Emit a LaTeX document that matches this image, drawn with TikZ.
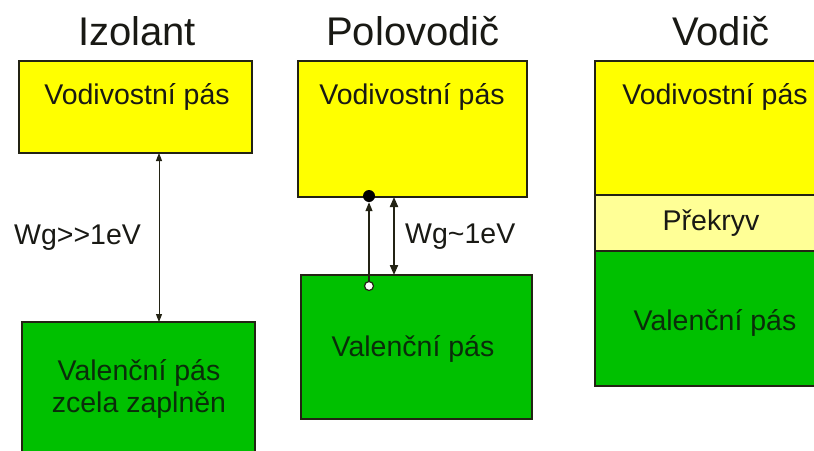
\documentclass[tikz,border=0pt]{standalone}
\usepackage{fontspec}
\setmainfont{Liberation Sans}
\usetikzlibrary{arrows.meta}
\definecolor{bandyellow}{RGB}{255,255,0}
\definecolor{overlapyellow}{RGB}{255,255,150}
\definecolor{bandgreen}{RGB}{0,192,0}
\definecolor{edge}{RGB}{35,35,20}
\definecolor{ink}{RGB}{25,25,20}
\definecolor{greenink}{RGB}{10,45,10}
\tikzset{
  band/.style={draw=edge, line width=2pt, inner sep=0pt, outer sep=0pt, anchor=north west},
  title/.style={font=\fontsize{40}{44}\selectfont, text=ink},
  lbl/.style={font=\fontsize{28.5}{32}\selectfont, text=ink, inner sep=0pt},
  glbl/.style={lbl, text=greenink, align=center},
  gap/.style={draw=edge, line width=1pt, {Triangle[width=6pt,length=8pt]}-{Triangle[width=6pt,length=8pt]}},
  gapthick/.style={draw=edge, line width=2pt, {Triangle[width=8pt,length=10pt]}-{Triangle[width=8pt,length=10pt]}},
  jump/.style={draw=edge, line width=1.2pt, -{Triangle[width=7pt,length=9pt]}},
  electron/.style={circle, fill=black, inner sep=0pt, minimum size=12pt},
  hole/.style={circle, draw=edge, fill=white, line width=1.2pt, inner sep=0pt, minimum size=9pt},
}
\begin{document}
\begin{tikzpicture}[x=1pt, y=-1pt]
\clip (0,0) rectangle (814,450);
\fill[white] (0,0) rectangle (814,450);

% --- Izolant ---
\node[title] (t1) at (137,31) {Izolant};
\node[band, fill=bandyellow, minimum width=233pt, minimum height=92pt] (izc) at (19,61) {};
\node[band, fill=bandgreen, minimum width=233pt, minimum height=160pt] (izv) at (22,322) {};
\node[lbl] at (137,97) {Vodivostní pás};
\node[glbl] at (139,389) {Valenční pás\\zcela zaplněn};
\coordinate (izx) at (159,0);
\draw[gap] (izc.south -| izx) -- (izv.north -| izx);
\node[lbl, anchor=west] at (14,238) {Wg{>}{>}1eV};

% --- Polovodič ---
\node[title] (t2) at (413,31) {Polovodič};
\node[band, fill=bandyellow, minimum width=229pt, minimum height=136pt] (pvc) at (298,61) {};
\node[band, fill=bandgreen, minimum width=231pt, minimum height=144pt] (pvv) at (301,275) {};
\node[lbl] at (412,97) {Vodivostní pás};
\node[glbl] at (413,349) {Valenční pás};
\coordinate (pvx) at (394,0);
\draw[gapthick] (pvc.south -| pvx) -- (pvv.north -| pvx);
\node[electron] (el) at (369,196) {};
\node[hole] (ho) at (369,286) {};
\draw[jump] (ho) -- (el);
\node[lbl, anchor=west] at (405,237) {Wg\textasciitilde 1eV};

% --- Vodič ---
\node[title] (t3) at (721,31) {Vodič};
\node[band, fill=bandyellow, minimum width=240pt, minimum height=134pt] (vdc) at (595,61) {};
\node[band, fill=overlapyellow, minimum width=240pt, minimum height=56pt] (vdo) at (595,195) {};
\node[band, fill=bandgreen, minimum width=240pt, minimum height=135pt] (vdv) at (595,251) {};
\node[lbl] at (715,97) {Vodivostní pás};
\node[lbl] at (711,223) {Překryv};
\node[glbl] at (715,323) {Valenční pás};
\end{tikzpicture}
\end{document}
